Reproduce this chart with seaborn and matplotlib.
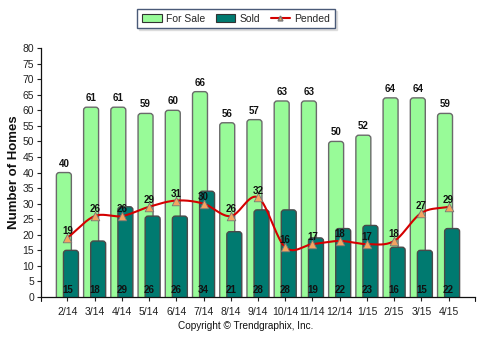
import numpy as np
import pandas as pd
import matplotlib
matplotlib.use("Agg")
import matplotlib.pyplot as plt
import seaborn as sns
from matplotlib.patches import FancyBboxPatch
from matplotlib.lines import Line2D
from matplotlib.patches import Patch

months = ["2/14", "3/14", "4/14", "5/14", "6/14", "7/14", "8/14", "9/14",
          "10/14", "11/14", "12/14", "1/15", "2/15", "3/15", "4/15"]
for_sale = [40, 61, 61, 59, 60, 66, 56, 57, 63, 63, 50, 52, 64, 64, 59]
sold = [15, 18, 29, 26, 26, 34, 21, 28, 28, 19, 22, 23, 16, 15, 22]
pended = [19, 26, 26, 29, 31, 30, 26, 32, 16, 17, 18, 17, 18, 27, 29]

sns.set_theme(style="white")
plt.rcParams['font.family'] = ['Liberation Sans', 'DejaVu Sans']

c_sale = "#98FB98"
c_sold = "#007A70"
c_line = "#D40000"
c_mark = "#F4A460"

fig = plt.figure(figsize=(4.79, 3.41), dpi=100)
ax = fig.add_axes([0.0856, 0.129, 0.906, 0.730])

df = pd.DataFrame({"month": months, "for_sale": for_sale, "sold": sold, "pended": pended})
x = np.arange(len(months))
bw = 0.55
off = 0.13

def round_bars(patches, shift, face, edge):
    for p in list(patches):
        x0 = p.get_x() + shift
        w = p.get_width()
        h = p.get_height()
        p.remove()
        fb = FancyBboxPatch((x0, -3), w, h + 3,
                            boxstyle="round,pad=0,rounding_size=0.11",
                            mutation_aspect=8.7, facecolor=face,
                            edgecolor=edge, linewidth=1.0, zorder=2)
        ax.add_patch(fb)

sns.barplot(data=df, x="month", y="for_sale", color=c_sale, width=bw,
            saturation=1, ax=ax)
round_bars(ax.patches, -off, c_sale, "#6a6a6a")
sns.barplot(data=df, x="month", y="sold", color=c_sold, width=bw,
            saturation=1, ax=ax)
sold_patches = [p for p in ax.patches if not isinstance(p, FancyBboxPatch)]
round_bars(sold_patches, off, c_sold, "#4a4a4a")

# smooth line (Catmull-Rom through the data points)
yv = np.array(pended, dtype=float)
xs, ys = [], []
P = np.concatenate([[2 * yv[0] - yv[1]], yv, [2 * yv[-1] - yv[-2]]])
X = np.concatenate([[x[0] - 1], x, [x[-1] + 1]]).astype(float)
for i in range(1, len(P) - 2):
    t = np.linspace(0, 1, 20)
    p0, p1, p2, p3 = P[i - 1], P[i], P[i + 1], P[i + 2]
    q0, q1, q2, q3 = X[i - 1], X[i], X[i + 1], X[i + 2]
    ys.append(0.5 * (2 * p1 + (-p0 + p2) * t + (2 * p0 - 5 * p1 + 4 * p2 - p3) * t**2 + (-p0 + 3 * p1 - 3 * p2 + p3) * t**3))
    xs.append(0.5 * (2 * q1 + (-q0 + q2) * t + (2 * q0 - 5 * q1 + 4 * q2 - q3) * t**2 + (-q0 + 3 * q1 - 3 * q2 + q3) * t**3))
ax.plot(np.concatenate(xs), np.concatenate(ys), color=c_line, lw=1.5, zorder=4)
sns.scatterplot(x=x, y=pended, marker="^", color=c_mark, edgecolor="#777777",
                linewidth=0.6, s=38, zorder=5, ax=ax, legend=False)

lab = dict(fontsize=7, fontweight="bold", color="#111111", ha="center", va="center", zorder=6)
for i in range(len(months)):
    ax.text(i - off, for_sale[i] + 2.9, str(for_sale[i]), **lab)
    ax.text(i, 2.3, str(sold[i]), **lab)
    ax.text(i, pended[i] + 2.2, str(pended[i]), **lab)

ax.set_xlim(-0.97, 14.97)
ax.set_ylim(0, 80)
ax.set_yticks(range(0, 81, 5))
ax.set_xticks(x)
ax.set_xticklabels(months)
ax.set_xlabel("")
ax.set_ylabel("Number of Homes", fontsize=9.5, fontweight="bold", color="#111111", labelpad=2)
ax.tick_params(axis="both", labelsize=7.5, colors="#222222", length=3, width=0.8,
               direction="out", bottom=True, left=True, pad=2)
ax.tick_params(axis="x", pad=4)
for s in ["top", "right"]:
    ax.spines[s].set_visible(False)
for s in ["left", "bottom"]:
    ax.spines[s].set_color("#111111")
    ax.spines[s].set_linewidth(0.9)
for xe in ax.get_xlim():
    ax.plot([xe, xe], [0, -1.2], color="#111111", lw=0.8, clip_on=False)

handles = [Patch(facecolor=c_sale, edgecolor="#333333", lw=0.8),
           Patch(facecolor=c_sold, edgecolor="#333333", lw=0.8),
           Line2D([0], [0], color=c_line, lw=1.5, marker="^", markersize=3.5,
                  markerfacecolor=c_mark, markeredgecolor="#777777")]
leg = fig.legend(handles, ["For Sale", "Sold", "Pended"], loc="upper center",
                 bbox_to_anchor=(0.493, 0.98), ncol=3, fontsize=7.5, frameon=True,
                 fancybox=False, shadow={'ox': 1.2, 'oy': -1.2, 'color': '#c8c8c8'},
                 handlelength=1.9, handleheight=0.8,
                 columnspacing=1.0, handletextpad=0.4, borderpad=0.45,
                 borderaxespad=0.2)
leg.get_frame().set_edgecolor("#4a5a78")
leg.get_frame().set_linewidth(1.0)

fig.text(0.512, 0.043, "Copyright \u00a9 Trendgraphix, Inc.", fontsize=7.2, ha="center",
         va="center", color="#111111")

fig.savefig("out.png", dpi=100)
